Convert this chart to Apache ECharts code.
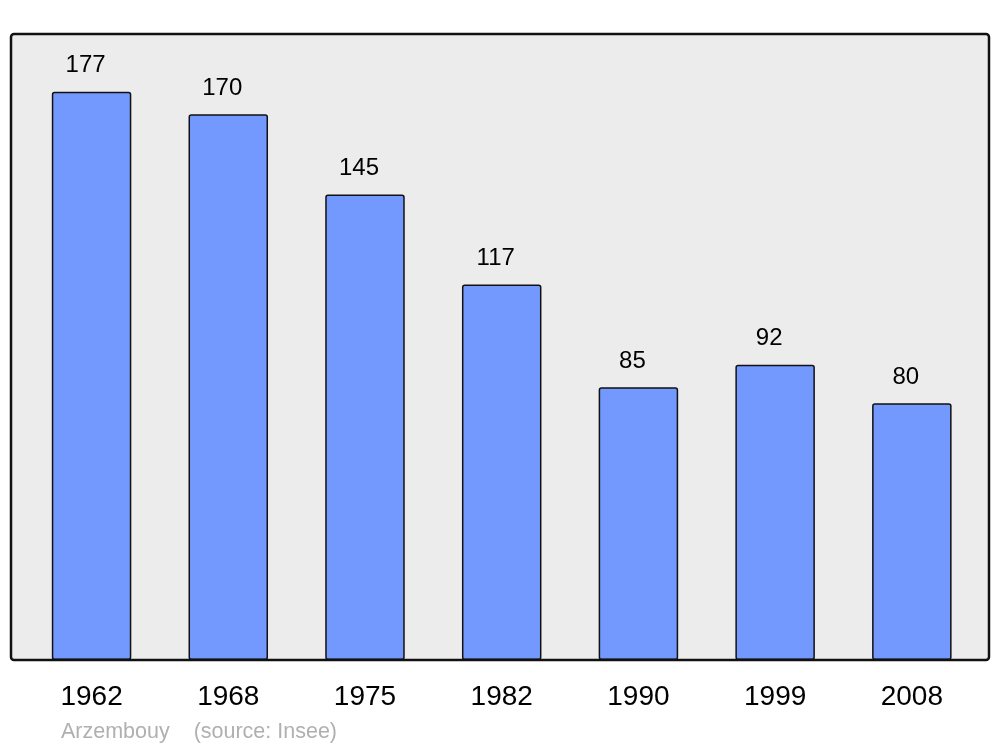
<!DOCTYPE html>
<html>
<head>
<meta charset="utf-8">
<script src="https://cdn.jsdelivr.net/npm/echarts@6/dist/echarts.min.js"></script>
<style>html,body{margin:0;padding:0;background:#fff}#c{width:1000px;height:747px}</style>
</head>
<body>
<div id="c"></div>
<script>
const years = ['1962', '1968', '1975', '1982', '1990', '1999', '2008'];
const population = [177, 170, 145, 117, 85, 92, 80];
const sourceText = 'Arzembouy    (source: Insee)';

const chart = echarts.init(document.getElementById('c'), null, {renderer: 'canvas'});
const font = '"Liberation Sans", Arial, sans-serif';
chart.setOption({
  animation: false,
  backgroundColor: '#ffffff',
  textStyle: {fontFamily: font},
  grid: {left: 23.2, right: 19.8, top: 34, bottom: 87, containLabel: false},
  graphic: [
    {type: 'rect', z: -10, silent: true,
     shape: {x: 11, y: 34, width: 978, height: 626, r: 3},
     style: {fill: '#ececec', stroke: null}},
    {type: 'rect', z: 100, silent: true,
     shape: {x: 11, y: 34, width: 978, height: 626, r: 3},
     style: {fill: null, stroke: '#111111', lineWidth: 2.5}},
    {type: 'text', z: 100, silent: true, left: 61, top: 721,
     style: {text: sourceText, fill: '#b0b0b0', font: '21.5px ' + font}}
  ],
  xAxis: {
    type: 'category', data: years,
    axisLine: {show: false}, axisTick: {show: false},
    axisLabel: {color: '#000', fontSize: 28, margin: 23, fontFamily: font}
  },
  yAxis: {
    type: 'value', min: 0, max: 195,
    show: false, splitLine: {show: false}
  },
  series: [{
    type: 'bar', data: population, barWidth: 79.5,
    itemStyle: {color: '#7399ff', borderColor: '#111111', borderWidth: 1.5, borderRadius: 2},
    label: {show: true, position: 'top', distance: 14, offset: [-6, 0],
            color: '#000', fontSize: 24, fontFamily: font}
  }]
});
</script>
</body>
</html>
